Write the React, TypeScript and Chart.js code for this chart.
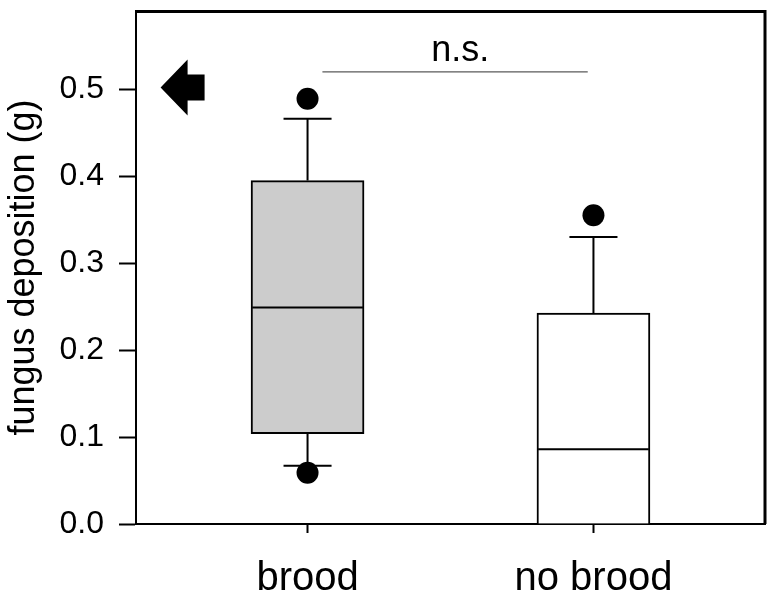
import React, { useEffect, useRef } from "react";
import { Chart, registerables } from "chart.js";

Chart.register(...registerables);

// ---- data ----
const categories = ["brood", "no brood"];
const categoryPositions = [1, 2];
const q1 = [0.104, 0.0];
const median = [0.249, 0.086];
const q3 = [0.395, 0.2425];
const whiskerLow = [0.067, 0.0];
const whiskerHigh = [0.466, 0.33];
const outliers = [[0.489, 0.059], [0.355]];
const yTicks = [0, 0.1, 0.2, 0.3, 0.4, 0.5];
const boxFill = ["#cccccc", "#ffffff"];
const sigLabel = "n.s.";
const sigFrom = 1.052;
const sigTo = 1.98;
const sigY = 0.52;
const sigTextX = 1.534;
const sigTextY = 0.533;
const arrowX = 0.486;
const arrowY = 0.502;

// ---- geometry (in x-axis units) ----
const BOX_HALF = 0.1976;
const CAP_HALF = 0.084;
const FONT = "'Liberation Sans', Arial, Helvetica, sans-serif";

function buildMedianData() {
  const pts: any[] = [];
  categoryPositions.forEach((p, i) => {
    pts.push({ x: p - BOX_HALF + 0.004, y: median[i] });
    pts.push({ x: p + BOX_HALF - 0.004, y: median[i] });
    pts.push({ x: p + 0.5, y: null });
  });
  return pts;
}

function buildWhiskerData() {
  const pts: any[] = [];
  categoryPositions.forEach((p, i) => {
    if (whiskerHigh[i] > q3[i]) {
      pts.push({ x: p, y: q3[i] });
      pts.push({ x: p, y: whiskerHigh[i] });
      pts.push({ x: p + 0.3, y: null });
      pts.push({ x: p - CAP_HALF, y: whiskerHigh[i] });
      pts.push({ x: p + CAP_HALF, y: whiskerHigh[i] });
      pts.push({ x: p + 0.3, y: null });
    }
    if (whiskerLow[i] < q1[i]) {
      pts.push({ x: p, y: q1[i] });
      pts.push({ x: p, y: whiskerLow[i] });
      pts.push({ x: p + 0.3, y: null });
      pts.push({ x: p - CAP_HALF, y: whiskerLow[i] });
      pts.push({ x: p + CAP_HALF, y: whiskerLow[i] });
      pts.push({ x: p + 0.3, y: null });
    }
  });
  return pts;
}

function buildOutlierData() {
  const pts: any[] = [];
  categoryPositions.forEach((p, i) => {
    outliers[i].forEach((v) => pts.push({ x: p, y: v }));
  });
  return pts;
}

const framePlugin = {
  id: "frame",
  afterDraw(chart: any) {
    const { ctx, chartArea } = chart;
    ctx.save();
    ctx.strokeStyle = "#000";
    ctx.lineWidth = 3;
    ctx.beginPath();
    ctx.moveTo(chartArea.left, chartArea.top + 0.5);
    ctx.lineTo(chartArea.right, chartArea.top + 0.5);
    ctx.lineTo(chartArea.right, chartArea.bottom);
    ctx.stroke();
    ctx.restore();
  },
};

const annotationPlugin = {
  id: "annot",
  afterDatasetsDraw(chart: any) {
    const { ctx } = chart;
    const xs = chart.scales.x;
    const ys = chart.scales.y;
    ctx.save();
    ctx.fillStyle = "#000";
    ctx.font = `36px ${FONT}`;
    ctx.textAlign = "center";
    ctx.textBaseline = "alphabetic";
    ctx.fillText(sigLabel, xs.getPixelForValue(sigTextX), ys.getPixelForValue(sigTextY));
    const tx = xs.getPixelForValue(arrowX);
    const ty = ys.getPixelForValue(arrowY);
    ctx.beginPath();
    ctx.moveTo(tx, ty);
    ctx.lineTo(tx + 27, ty - 28);
    ctx.lineTo(tx + 27, ty - 13);
    ctx.lineTo(tx + 44, ty - 13);
    ctx.lineTo(tx + 44, ty + 13);
    ctx.lineTo(tx + 27, ty + 13);
    ctx.lineTo(tx + 27, ty + 28);
    ctx.closePath();
    ctx.fill();
    ctx.restore();
  },
};

export default function App() {
  const ref = useRef<HTMLCanvasElement | null>(null);

  useEffect(() => {
    if (!ref.current) return;
    const chart = new Chart(ref.current, {
      type: "scatter",
      data: {
        datasets: [
          {
            type: "scatter",
            data: buildOutlierData(),
            pointRadius: 11,
            pointHoverRadius: 11,
            backgroundColor: "#000",
            borderWidth: 0,
            order: 0,
          } as any,
          {
            type: "line",
            data: [
              { x: sigFrom, y: sigY },
              { x: sigTo, y: sigY },
            ],
            borderColor: "#5a5a5a",
            borderWidth: 1.2,
            pointRadius: 0,
            order: 1,
          } as any,
          {
            type: "line",
            data: buildMedianData(),
            borderColor: "#000",
            borderWidth: 2,
            pointRadius: 0,
            spanGaps: false,
            order: 1,
          } as any,
          {
            type: "line",
            data: buildWhiskerData(),
            borderColor: "#000",
            borderWidth: 2,
            pointRadius: 0,
            spanGaps: false,
            borderCapStyle: "butt",
            order: 2,
          } as any,
          {
            type: "bar",
            data: categoryPositions.map((p, i) => ({ x: p, y: [q1[i], q3[i]] })),
            backgroundColor: boxFill,
            borderColor: "#000",
            borderWidth: 2,
            borderSkipped: (c: any) => (q1[c.dataIndex] === 0 ? "start" : false),
            barThickness: 113,
            grouped: false,
            order: 3,
          } as any,
        ],
      },
      options: {
        responsive: false,
        animation: false,
        events: [],
        layout: { padding: { top: 10, right: 11, left: 0, bottom: 0 } },
        plugins: {
          legend: { display: false },
          tooltip: { enabled: false },
        },
        scales: {
          x: {
            type: "linear",
            min: 0.4,
            max: 2.6,
            offset: false,
            afterFit(scale: any) {
              scale.height = 75;
              scale.paddingLeft = 0;
              scale.paddingRight = 0;
            },
            afterBuildTicks(scale: any) {
              scale.ticks = categoryPositions.map((v) => ({ value: v }));
            },
            ticks: {
              callback: (v: any) => {
                const i = categoryPositions.indexOf(Number(v));
                return i >= 0 ? categories[i] : "";
              },
              font: { family: FONT, size: 40 },
              color: "#000",
              padding: 22,
              maxRotation: 0,
              autoSkip: false,
            },
            grid: {
              offset: false,
              drawOnChartArea: false,
              drawTicks: true,
              tickLength: 9,
              tickWidth: 2,
              tickColor: "#000",
            },
            border: { display: true, color: "#000", width: 2 },
          },
          y: {
            type: "linear",
            min: 0,
            max: 0.59,
            afterFit(scale: any) {
              scale.width = 136;
              scale.paddingTop = 0;
              scale.paddingBottom = 0;
            },
            afterBuildTicks(scale: any) {
              scale.ticks = yTicks.map((v) => ({ value: v }));
            },
            ticks: {
              callback: (v: any) => Number(v).toFixed(1),
              font: { family: FONT, size: 32 },
              color: "#000",
              padding: 15,
            },
            grid: {
              drawOnChartArea: false,
              drawTicks: true,
              tickLength: 17,
              tickWidth: 2,
              tickColor: "#000",
            },
            border: { display: true, color: "#000", width: 2 },
            title: {
              display: true,
              text: "fungus deposition (g)",
              font: { family: FONT, size: 36, lineHeight: 1.2 },
              color: "#000",
              padding: { top: 2, bottom: 0 },
            },
          },
        },
      },
      plugins: [framePlugin, annotationPlugin],
    });
    return () => chart.destroy();
  }, []);

  return (
    <div style={{ position: "absolute", left: 0, top: 0, width: 776, height: 599, background: "#fff" }}>
      <canvas ref={ref} width={776} height={599} style={{ width: 776, height: 599 }} />
    </div>
  );
}
